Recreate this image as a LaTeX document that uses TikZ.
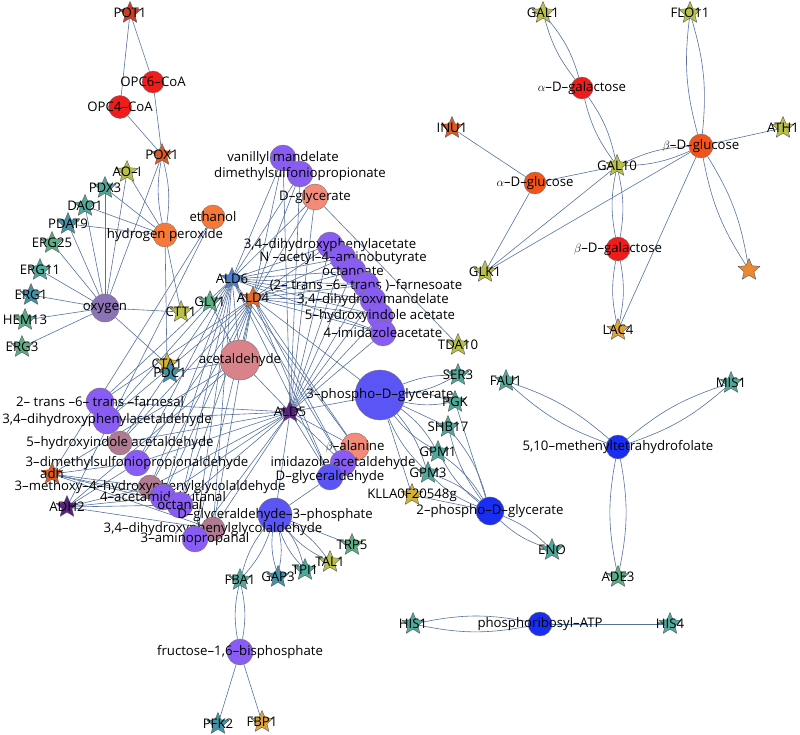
\documentclass[tikz,border=0pt]{standalone}
\usepackage{fontspec}
\setmainfont{Open Sans}
\usetikzlibrary{shapes.geometric}
\pgfdeclarelayer{edges}
\pgfsetlayers{edges,main}

\definecolor{cRed}{HTML}{F01C1C}
\definecolor{cOrRed}{HTML}{F2541C}
\definecolor{cOrange}{HTML}{F7793A}
\definecolor{cSal}{HTML}{F48A78}
\definecolor{cAcet}{HTML}{D9828A}
\definecolor{cPur}{HTML}{8A5CF6}
\definecolor{cMauve}{HTML}{B07A90}
\definecolor{cBlueP}{HTML}{5A55F4}
\definecolor{cBlue}{HTML}{1A2EF2}
\definecolor{cOxy}{HTML}{8B73B5}
\definecolor{sRed}{HTML}{D23A20}
\definecolor{sOrR}{HTML}{DD5A25}
\definecolor{sOr}{HTML}{E88A32}
\definecolor{sGold}{HTML}{D4B236}
\definecolor{sAmber}{HTML}{E0A23A}
\definecolor{sYel}{HTML}{B8C04A}
\definecolor{sTeal}{HTML}{4FA89A}
\definecolor{sTealB}{HTML}{3F92A8}
\definecolor{sGreen}{HTML}{5AAE86}
\definecolor{sBlue}{HTML}{4A7FD0}
\definecolor{sAldf}{HTML}{E26A2C}
\definecolor{sPurp}{HTML}{5B2182}
\definecolor{edgec}{HTML}{56729F}

\newcommand{\lblfont}{\fontsize{13.2}{14}\selectfont}

\tikzset{
  gene/.style={star, star points=5, star point ratio=2.2, minimum size=23pt,
    inner sep=0pt, draw=black!65, line width=0.4pt},
  met/.style={circle, inner sep=0pt, minimum size=26pt, draw=black!55, line width=0.4pt},
  lbl/.style={font=\lblfont, text=black, inner sep=0pt},
  link/.style={draw=edgec, line width=0.6pt},
}

\begin{document}
\begin{tikzpicture}[x=1pt,y=-1pt]
\useasboundingbox (0,0) rectangle (800,735);

% oxidases and oxygen
\node[met,minimum size=22pt,fill=cRed,label={[lbl]center:OPC6--CoA}] (opcsix) at (153,82) {};
\node[met,minimum size=23pt,fill=cRed,label={[lbl]center:OPC4--CoA}] (opcfour) at (120,107) {};
\node[gene,fill=sRed,label={[lbl]center:POT1}] (pot1) at (130,13) {};
\node[gene,fill=sOrR,label={[lbl]center:POX1}] (pox1) at (162,155) {};
\node[gene,fill=sYel,label={[lbl]center:AO--I}] (aoi) at (127,172) {};
\node[gene,fill=sTeal,label={[lbl]center:PDX3}] (pdx3) at (105,188) {};
\node[gene,fill=sTeal,label={[lbl]center:DAO1}] (dao1) at (85,206) {};
\node[gene,fill=sTealB,label={[lbl]center:PDAT9}] (pdat9) at (68,224) {};
\node[gene,fill=sGreen,label={[lbl]center:ERG25}] (erg25) at (52,243) {};
\node[gene,fill=sTeal,label={[lbl]center:ERG11}] (erg11) at (40,270) {};
\node[gene,fill=sTealB,label={[lbl]center:ERG1}] (erg1) at (31,295) {};
\node[gene,fill=sGreen,label={[lbl]center:HEM13}] (hem13) at (25,320) {};
\node[gene,fill=sGreen,label={[lbl]center:ERG3}] (erg3) at (22,347) {};
\node[met,minimum size=24pt,fill=cOrange,label={[lbl]center:hydrogen peroxide}] (hperox) at (165,235) {};
\node[met,minimum size=24pt,fill=cOrange,label={[lbl]center:ethanol}] (ethanol) at (213,217) {};
\node[met,minimum size=28pt,fill=cOxy,label={[lbl]center:oxygen}] (oxygen) at (105,308) {};
\node[gene,fill=sYel,label={[lbl]center:CTT1}] (ctt1) at (181,312) {};
\node[gene,fill=sGreen,label={[lbl]center:GLY1}] (gly1) at (210,302) {};

% acids
\node[met,fill=cPur,label={[lbl]center:vanillyl mandelate}] (vanman) at (283,158) {};
\node[met,fill=cPur,label={[lbl]center:dimethylsulfoniopropionate}] (dmsp) at (300,174) {};
\node[met,fill=cSal,label={[lbl]center:D--glycerate}] (dglyc) at (315,197) {};
\node[met,fill=cPur,label={[lbl]center:3,4--dihydroxyphenylacetate}] (dhpa) at (330,245) {};
\node[met,fill=cPur,label={[lbl]center:N --acetyl--4--aminobutyrate}] (nacab) at (343,258) {};
\node[met,fill=cPur,label={[lbl]center:octanoate}] (octoate) at (353,271) {};
\node[met,fill=cPur,label={[lbl]center:(2-- trans --6-- trans )--farnesoate}] (farnoate) at (366,285) {};
\node[met,fill=cPur,label={[lbl]center:3,4--dihydroxymandelate}] (dhman) at (373,300) {};
\node[met,fill=cPur,label={[lbl]center:5--hydroxyindole acetate}] (hiac) at (380,316) {};
\node[met,fill=cPur,label={[lbl]center:4--imidazoleacetate}] (imac) at (383,333) {};

\node[gene,fill=sBlue,label={[lbl]center:ALD6}] (ald6) at (232,279) {};
\node[gene,fill=sAldf,label={[lbl]center:ALD4}] (ald4) at (253,298) {};
\node[met,minimum size=40pt,fill=cAcet,label={[lbl]center:acetaldehyde}] (acald) at (240,360) {};
\node[gene,fill=sGold,label={[lbl]center:CTA1}] (cta1) at (167,364) {};
\node[gene,fill=sTealB,label={[lbl]center:PDC1}] (pdc1) at (170,373) {};

% aldehydes
\node[met,minimum size=28pt,fill=cPur,label={[lbl]center:2-- trans --6-- trans --farnesal}] (farnal) at (100,402) {};
\node[met,minimum size=28pt,fill=cPur,label={[lbl]center:3,4--dihydroxyphenylacetaldehyde}] (dhpald) at (107,420) {};
\node[met,minimum size=24pt,fill=cMauve,label={[lbl]center:5--hydroxyindole acetaldehyde}] (hiald) at (120,443) {};
\node[met,fill=cPur,label={[lbl]center:3--dimethylsulfoniopropionaldehyde}] (dmspald) at (137,463) {};
\node[gene,fill=sOrR,label={[lbl]center:adh}] (adh) at (52,474) {};
\node[gene,fill=sPurp,label={[lbl]center:ADH2}] (adh2) at (67,507) {};
\node[met,minimum size=24pt,fill=cMauve,label={[lbl]center:3--methoxy--4--hydroxyphenylglycolaldehyde}] (mhpgal) at (150,487) {};
\node[met,fill=cPur,label={[lbl]center:4--acetamidobutanal}] (acetbut) at (163,497) {};
\node[met,fill=cPur,label={[lbl]center:octanal}] (octanal) at (180,505) {};
\node[met,minimum size=34pt,fill=cBlueP,label={[lbl]center:D--glyceraldehyde--3--phosphate}] (gap) at (275,515) {};
\node[met,minimum size=24pt,fill=cMauve,label={[lbl]center:3,4--dihydroxyphenylglycolaldehyde}] (dhpgal) at (213,529) {};
\node[met,fill=cPur,label={[lbl]center:3--aminopropanal}] (aminoprop) at (195,539) {};
\node[gene,fill=sPurp,label={[lbl]center:ALD5}] (ald5) at (290,412) {};

% glycolysis
\node[met,minimum size=50pt,fill=cBlueP,label={[lbl]center:3--phospho--D--glycerate}] (pga3) at (380,395) {};
\node[met,minimum size=28pt,fill=cSal,label={[lbl]center:$\beta$--alanine}] (balan) at (355,447) {};
\node[met,fill=cPur,label={[lbl]center:imidazole acetaldehyde}] (imald) at (343,463) {};
\node[met,fill=cBlueP,label={[lbl]center:D--glyceraldehyde}] (dglyald) at (330,477) {};
\node[gene,fill=sGold,label={[lbl]center:KLLA0F20548g}] (klla) at (412,495) {};
\node[gene,fill=sTeal,label={[lbl]center:GPM3}] (gpm3) at (428,473) {};
\node[gene,fill=sTeal,label={[lbl]center:GPM1}] (gpm1) at (438,452) {};
\node[gene,fill=sTeal,label={[lbl]center:SHB17}] (shb17) at (448,427) {};
\node[gene,fill=sTeal,label={[lbl]center:PGK}] (pgk) at (455,402) {};
\node[gene,fill=sTeal,label={[lbl]center:SER3}] (ser3) at (458,375) {};
\node[gene,fill=sYel,label={[lbl]center:TDA10}] (tda10) at (458,345) {};
\node[met,minimum size=28pt,fill=cBlue,label={[lbl]center:2--phospho--D--glycerate}] (pga2) at (490,511) {};
\node[gene,fill=sTeal,label={[lbl]center:ENO}] (eno) at (552,550) {};
\node[gene,fill=sTeal,label={[lbl]center:FBA1}] (fba1) at (240,580) {};
\node[gene,fill=sTealB,label={[lbl]center:GAP3}] (gap3) at (278,577) {};
\node[gene,fill=sTeal,label={[lbl]center:TPI1}] (tpi1) at (305,570) {};
\node[gene,fill=sYel,label={[lbl]center:TAL1}] (tal1) at (330,562) {};
\node[gene,fill=sGreen,label={[lbl]center:TRP5}] (trp5) at (352,545) {};
\node[met,minimum size=26pt,fill=cPur,label={[lbl]center:fructose--1,6--bisphosphate}] (fbp) at (240,652) {};
\node[gene,fill=sTealB,label={[lbl]center:PFK2}] (pfk2) at (218,724) {};
\node[gene,fill=sAmber,label={[lbl]center:FBP1}] (fbp1) at (262,722) {};

% folate and histidine
\node[met,minimum size=24pt,fill=cBlue,label={[lbl]center:5,10--methenyltetrahydrofolate}] (mthf) at (618,447) {};
\node[gene,fill=sTeal,label={[lbl]center:FAU1}] (fau1) at (506,381) {};
\node[gene,fill=sTeal,label={[lbl]center:MIS1}] (mis1) at (731,383) {};
\node[gene,fill=sGreen,label={[lbl]center:ADE3}] (ade3) at (618,577) {};
\node[met,minimum size=24pt,fill=cBlue,label={[lbl]center:phosphoribosyl--ATP}] (prATP) at (540,624) {};
\node[gene,fill=sTeal,label={[lbl]center:HIS1}] (his1) at (413,624) {};
\node[gene,fill=sTeal,label={[lbl]center:HIS4}] (his4) at (670,624) {};

% sugars
\node[met,minimum size=22pt,fill=cRed,label={[lbl]center:$\alpha$--D--galactose}] (agal) at (582,88) {};
\node[met,minimum size=24pt,fill=cOrRed,label={[lbl]center:$\beta$--D--glucose}] (bglc) at (701,146) {};
\node[met,minimum size=22pt,fill=cOrRed,label={[lbl]center:$\alpha$--D--glucose}] (aglc) at (535,183) {};
\node[met,minimum size=24pt,fill=cRed,label={[lbl]center:$\beta$--D--galactose}] (bgal) at (618,249) {};
\node[gene,fill=sYel,label={[lbl]center:GAL1}] (gal1) at (543,13) {};
\node[gene,fill=sYel,label={[lbl]center:FLO11}] (flo11) at (690,13) {};
\node[gene,fill=sOrR,label={[lbl]center:INU1}] (inu1) at (452,128) {};
\node[gene,fill=sYel,label={[lbl]center:ATH1}] (ath1) at (783,128) {};
\node[gene,fill=sYel,label={[lbl]center:GAL10}] (gal10) at (617,166) {};
\node[gene,fill=sYel,label={[lbl]center:GLK1}] (glk1) at (485,272) {};
\node[gene,fill=sAmber,label={[lbl]center:LAC4}] (lac4) at (618,330) {};
\node[gene,fill=sOr] (orstar) at (749,270) {};

\begin{pgfonlayer}{edges}
% single links
\foreach \a/\b in {pot1/opcsix,pot1/opcfour,pox1/opcsix,pox1/opcfour,pox1/oxygen,
    aoi/hperox,aoi/oxygen,pdx3/hperox,pdx3/oxygen,dao1/hperox,dao1/oxygen,
    pdat9/hperox,pdat9/oxygen,erg25/oxygen,erg11/oxygen,erg1/oxygen,hem13/oxygen,erg3/oxygen,
    ctt1/hperox,ctt1/oxygen,cta1/hperox,cta1/oxygen,ethanol/adh,ethanol/adh2,
    gly1/acald,pdc1/acald,ald5/gap,ald5/pga3,ald4/pga3,dglyald/gap,gap/trp5,
    fbp/pfk2,fbp/fbp1,tda10/dglyc,klla/pga3,klla/pga2,shb17/pga3,pgk/pga2,
    his4/prATP,inu1/aglc,ath1/bglc,bglc/glk1,bglc/lac4,aglc/glk1,aglc/gal10,gal10/glk1}
  \draw[link] (\a) -- (\b);
\foreach \g in {ald6,ald4,ald5}
  \foreach \m in {acald,vanman,dmsp,dglyc,dhpa,nacab,octoate,farnoate,dhman,hiac,imac,
      farnal,dhpald,hiald,dmspald,mhpgal,acetbut,octanal,dhpgal,aminoprop,imald,dglyald,balan}
    \draw[link] (\g) -- (\m);
\foreach \g in {adh,adh2}
  \foreach \m in {acald,dmspald,mhpgal,octanal,dhpgal,acetbut}
    \draw[link] (\g) -- (\m);
% paired links
\foreach \a/\b in {pox1/hperox,gap/fba1,gap/gap3,gap/tpi1,gap/tal1,fba1/fbp,
    pga3/ser3,pga3/pgk,pga3/gpm1,pga3/gpm3,pga2/gpm1,pga2/gpm3,pga2/shb17,pga2/eno,
    mthf/fau1,mthf/mis1,mthf/ade3,prATP/his1,gal1/agal,agal/gal10,flo11/bglc,
    bglc/gal10,bglc/orstar,gal10/bgal,bgal/lac4}
  \draw[link] (\a) to[bend left=11] (\b) (\a) to[bend right=11] (\b);
\end{pgfonlayer}
\end{tikzpicture}
\end{document}
